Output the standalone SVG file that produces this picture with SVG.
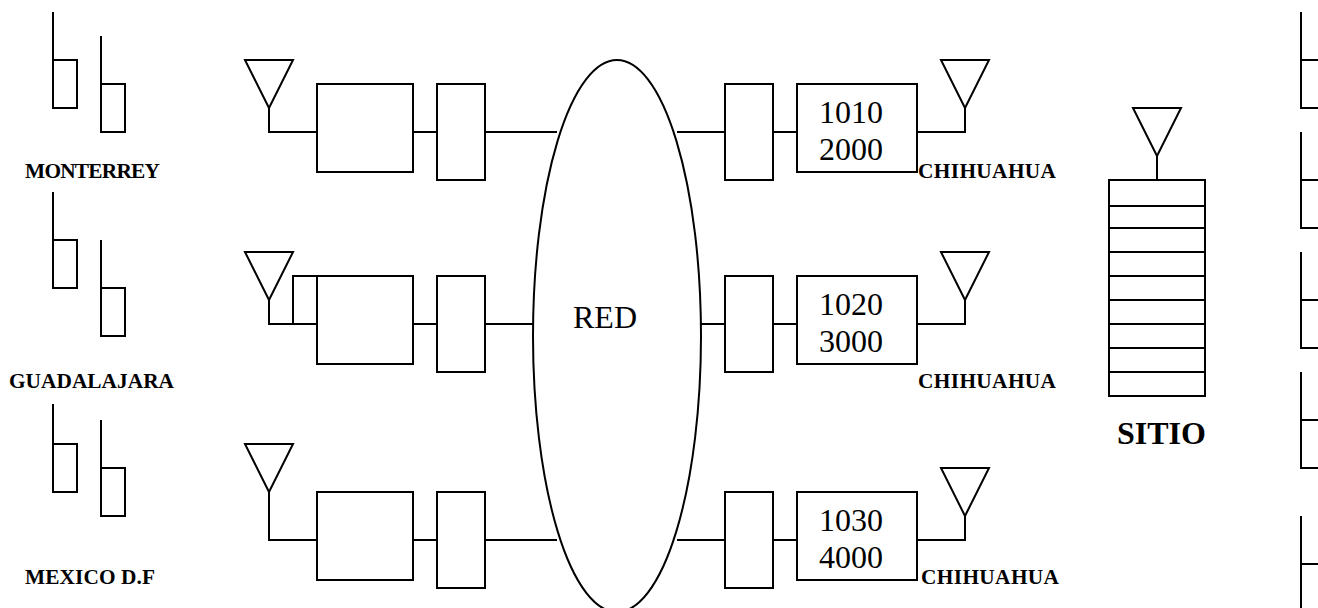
<svg xmlns="http://www.w3.org/2000/svg" width="1318" height="608" viewBox="0 0 1318 608">
<style>
.s{fill:none;stroke:#000;stroke-width:2}
text{font-family:"Liberation Serif","Times New Roman",serif;fill:#000}
.b{font-weight:bold;font-size:21.33px}
.n{font-size:32px}
</style>
<defs>
<path id="ph" class="s" d="M0 0V96H24V48H0"/>
<path id="ant" class="s" d="M-24 0H24L0 48Z"/>
</defs>
<rect width="1318" height="608" fill="#fff"/>
<g id="connectors" class="s">
<path d="M269 108V132H317M413 132H437M485 132H557M677 132H725M773 132H797M917 132H965V108"/>
<path d="M269 300V324H317M293 324V276H317M413 324H437M485 324H533M701 324H725M773 324H797M917 324H965V300"/>
<path d="M269 492V540H317M413 540H437M485 540H557M677 540H725M773 540H797M917 540H965V516"/>
<path d="M1157 156V180"/>
</g>
<g id="phones-monterrey"><use href="#ph" x="53" y="12"/><use href="#ph" x="101" y="36"/></g>
<g id="phones-guadalajara"><use href="#ph" x="53" y="192"/><use href="#ph" x="101" y="240"/></g>
<g id="phones-mexico"><path class="s" d="M53 404V492H77V444H53M101 420V516H125V468H101"/></g>
<g id="label-monterrey"><text class="b" x="25" y="178" textLength="135" lengthAdjust="spacing">MONTERREY</text></g>
<g id="label-guadalajara"><text class="b" x="9" y="388" textLength="165">GUADALAJARA</text></g>
<g id="label-mexico"><text class="b" x="25" y="584" textLength="130">MEXICO D.F</text></g>
<g id="antenna-l1"><use href="#ant" x="269" y="60"/></g>
<g id="antenna-l2"><use href="#ant" x="269" y="252"/></g>
<g id="antenna-l3"><use href="#ant" x="269" y="444"/></g>
<g id="box-l1a"><rect class="s" x="317" y="84" width="96" height="88"/></g>
<g id="box-l1b"><rect class="s" x="437" y="84" width="48" height="96"/></g>
<g id="box-l2a"><rect class="s" x="317" y="276" width="96" height="88"/></g>
<g id="box-l2b"><rect class="s" x="437" y="276" width="48" height="96"/></g>
<g id="box-l3a"><rect class="s" x="317" y="492" width="96" height="88"/></g>
<g id="box-l3b"><rect class="s" x="437" y="492" width="48" height="96"/></g>
<g id="red"><ellipse class="s" cx="617" cy="336" rx="84" ry="276"/><text class="n" x="573" y="328">RED</text></g>
<g id="box-r1a"><rect class="s" x="725" y="84" width="48" height="96"/></g>
<g id="box-r2a"><rect class="s" x="725" y="276" width="48" height="96"/></g>
<g id="box-r3a"><rect class="s" x="725" y="492" width="48" height="96"/></g>
<g id="box-r1b"><rect class="s" x="797" y="84" width="120" height="88"/><text class="n" x="819" y="123">1010</text><text class="n" x="819" y="160">2000</text></g>
<g id="box-r2b"><rect class="s" x="797" y="276" width="120" height="88"/><text class="n" x="819" y="315">1020</text><text class="n" x="819" y="352">3000</text></g>
<g id="box-r3b"><rect class="s" x="797" y="492" width="120" height="88"/><text class="n" x="819" y="531">1030</text><text class="n" x="819" y="568">4000</text></g>
<g id="antenna-r1"><use href="#ant" x="965" y="60"/></g>
<g id="antenna-r2"><use href="#ant" x="965" y="252"/></g>
<g id="antenna-r3"><use href="#ant" x="965" y="468"/></g>
<g id="label-chihuahua1"><text class="b" x="918" y="178" textLength="138">CHIHUAHUA</text></g>
<g id="label-chihuahua2"><text class="b" x="918" y="388" textLength="138">CHIHUAHUA</text></g>
<g id="label-chihuahua3"><text class="b" x="921" y="584" textLength="138">CHIHUAHUA</text></g>
<g id="sitio"><use href="#ant" x="1157" y="108"/>
<rect class="s" x="1109" y="180" width="96" height="216"/>
<path class="s" d="M1109 206H1205M1109 228H1205M1109 252H1205M1109 276H1205M1109 300H1205M1109 324H1205M1109 348H1205M1109 372H1205"/>
<text class="n" x="1117" y="444" font-weight="bold">SITIO</text></g>
<g id="phone-r1"><path class="s" d="M1318 60H1301M1301 12V108H1318"/></g>
<g id="phone-r2"><path class="s" d="M1318 180H1301M1301 132V228H1318"/></g>
<g id="phone-r3"><path class="s" d="M1318 300H1301M1301 252V348H1318"/></g>
<g id="phone-r4"><path class="s" d="M1318 420H1301M1301 372V468H1318"/></g>
<g id="phone-r5"><path class="s" d="M1318 564H1301M1301 516V608"/></g>
</svg>
